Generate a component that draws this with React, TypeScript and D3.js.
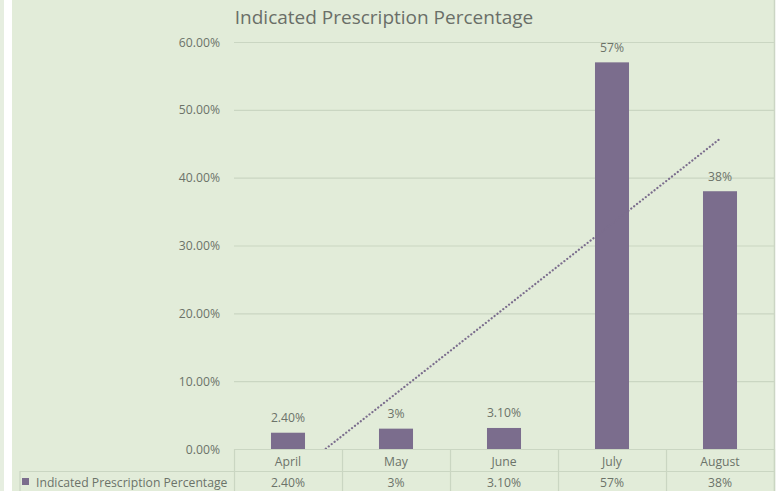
import React, { useEffect, useRef } from "react";
import * as d3 from "d3";

// chart data
const months = ["April", "May", "June", "July", "August"];
const values = [2.4, 3, 3.1, 57, 38];
const valueLabels = ["2.40%", "3%", "3.10%", "57%", "38%"];
const yTicks = [0, 10, 20, 30, 40, 50, 60];
const seriesName = "Indicated Prescription Percentage";

const W = 778;
const H = 491;
const barColor = "#7b6d8d";
const textColor = "#6c7369";
const gridColor = "#cad6c2";
const font = "'Open Sans', sans-serif";
const fs = 12.2;

const App: React.FC = () => {
  const svgRef = useRef<SVGSVGElement | null>(null);

  useEffect(() => {
    if (!svgRef.current) return;
    document.body.style.margin = "0";

    const margin = { top: 42, right: 4, bottom: 42, left: 234 };
    const innerW = W - margin.left - margin.right;
    const innerH = H - margin.top - margin.bottom;

    const svg = d3.select(svgRef.current);
    svg.selectAll("*").remove();

    // backgrounds
    svg.append("rect").attr("width", W).attr("height", H).attr("fill", "#ffffff");
    svg.append("rect").attr("width", 4).attr("height", H).attr("fill", "#e6eee0");
    svg.append("rect").attr("x", 12).attr("width", 762).attr("height", H).attr("fill", "#e2ecd9");
    svg.append("line")
      .attr("x1", 774.5).attr("x2", 774.5).attr("y1", 0).attr("y2", H)
      .attr("stroke", "#cbd5c4").attr("stroke-width", 1.5);

    svg.append("text")
      .attr("x", 384)
      .attr("y", 24)
      .attr("text-anchor", "middle")
      .attr("font-family", font)
      .attr("font-size", 19)
      .attr("fill", "#6a6f68")
      .text("Indicated Prescription Percentage");

    const g = svg.append("g").attr("transform", `translate(${margin.left},${margin.top})`);

    const x = d3.scaleBand<string>().domain(months).range([0, innerW]).padding(0);
    const y = d3.scaleLinear().domain([0, 60]).range([innerH, 0]);

    // gridlines
    g.selectAll("line.grid")
      .data(yTicks)
      .join("line")
      .attr("class", "grid")
      .attr("x1", 0)
      .attr("x2", innerW)
      .attr("y1", d => y(d) + 0.5)
      .attr("y2", d => y(d) + 0.5)
      .attr("stroke", gridColor)
      .attr("stroke-width", 1.2);

    g.selectAll("text.ytick")
      .data(yTicks)
      .join("text")
      .attr("class", "ytick")
      .attr("x", -14)
      .attr("y", d => y(d) + 4.5)
      .attr("text-anchor", "end")
      .attr("font-family", font)
      .attr("font-size", fs)
      .attr("fill", textColor)
      .text(d => d3.format(".2f")(d) + "%");

    // bars
    const bw = x.bandwidth() * 0.315;
    g.selectAll("rect.bar")
      .data(values)
      .join("rect")
      .attr("class", "bar")
      .attr("x", (_, i) => (x(months[i]) ?? 0) + x.bandwidth() / 2 - bw / 2)
      .attr("y", d => y(d))
      .attr("width", bw)
      .attr("height", d => innerH - y(d))
      .attr("fill", barColor);

    g.selectAll("text.vlabel")
      .data(values)
      .join("text")
      .attr("class", "vlabel")
      .attr("x", (_, i) => (x(months[i]) ?? 0) + x.bandwidth() / 2)
      .attr("y", d => y(d) - 10.5)
      .attr("text-anchor", "middle")
      .attr("font-family", font)
      .attr("font-size", fs)
      .attr("fill", textColor)
      .text((_, i) => valueLabels[i]);

    // linear trendline
    const idx = values.map((_, i) => i + 1);
    const mx = d3.mean(idx) ?? 0;
    const my = d3.mean(values) ?? 0;
    const slope =
      d3.sum(idx, (xi, i) => (xi - mx) * (values[i] - my)) /
      d3.sum(idx, xi => (xi - mx) * (xi - mx));
    const icpt = my - slope * mx;
    const trend = idx.map((xi, i) => ({ m: months[i], v: icpt + slope * xi }));

    svg.append("clipPath").attr("id", "plotclip")
      .append("rect").attr("x", 0).attr("y", 0).attr("width", innerW).attr("height", innerH);

    const line = d3.line<{ m: string; v: number }>()
      .x(d => (x(d.m) ?? 0) + x.bandwidth() / 2)
      .y(d => y(d.v));

    g.append("path")
      .datum(trend)
      .attr("clip-path", "url(#plotclip)")
      .attr("fill", "none")
      .attr("stroke", barColor)
      .attr("stroke-width", 2.2)
      .attr("stroke-linecap", "round")
      .attr("stroke-dasharray", "0.1,3.6")
      .attr("d", line);

    // data table
    const rowH = 22;
    const tbl = g.append("g").attr("transform", `translate(0,${innerH})`);
    const tcol = gridColor;
    tbl.append("line")
      .attr("x1", 0).attr("x2", innerW).attr("y1", 0.5).attr("y2", 0.5)
      .attr("stroke", tcol).attr("stroke-width", 1.2);
    tbl.append("line")
      .attr("x1", 20 - margin.left).attr("x2", innerW).attr("y1", rowH + 0.5).attr("y2", rowH + 0.5)
      .attr("stroke", tcol).attr("stroke-width", 1.2);
    tbl.append("line")
      .attr("x1", 20 - margin.left).attr("x2", 20 - margin.left).attr("y1", rowH).attr("y2", H)
      .attr("stroke", tcol).attr("stroke-width", 1.2);
    tbl.selectAll("line.col")
      .data([...months.map(m => x(m) ?? 0), innerW])
      .join("line")
      .attr("class", "col")
      .attr("x1", d => d + 0.5)
      .attr("x2", d => d + 0.5)
      .attr("y1", 0)
      .attr("y2", H)
      .attr("stroke", tcol)
      .attr("stroke-width", 1.2);

    tbl.selectAll("text.cat")
      .data(months)
      .join("text")
      .attr("class", "cat")
      .attr("x", d => (x(d) ?? 0) + x.bandwidth() / 2)
      .attr("y", 16.5)
      .attr("text-anchor", "middle")
      .attr("font-family", font)
      .attr("font-size", fs)
      .attr("fill", textColor)
      .text(d => d);

    tbl.selectAll("text.val")
      .data(valueLabels)
      .join("text")
      .attr("class", "val")
      .attr("x", (_, i) => (x(months[i]) ?? 0) + x.bandwidth() / 2)
      .attr("y", rowH + 15.5)
      .attr("text-anchor", "middle")
      .attr("font-family", font)
      .attr("font-size", fs)
      .attr("fill", textColor)
      .text(d => d);

    tbl.append("rect")
      .attr("x", 22 - margin.left)
      .attr("y", rowH + 7)
      .attr("width", 7)
      .attr("height", 7)
      .attr("fill", barColor);
    tbl.append("text")
      .attr("x", 36 - margin.left)
      .attr("y", rowH + 15.5)
      .attr("font-family", font)
      .attr("font-size", fs)
      .attr("fill", textColor)
      .text(seriesName);
  }, []);

  return (
    <svg
      ref={svgRef}
      width={W}
      height={H}
      style={{ position: "absolute", left: 0, top: 0, display: "block" }}
    />
  );
};

export default App;
